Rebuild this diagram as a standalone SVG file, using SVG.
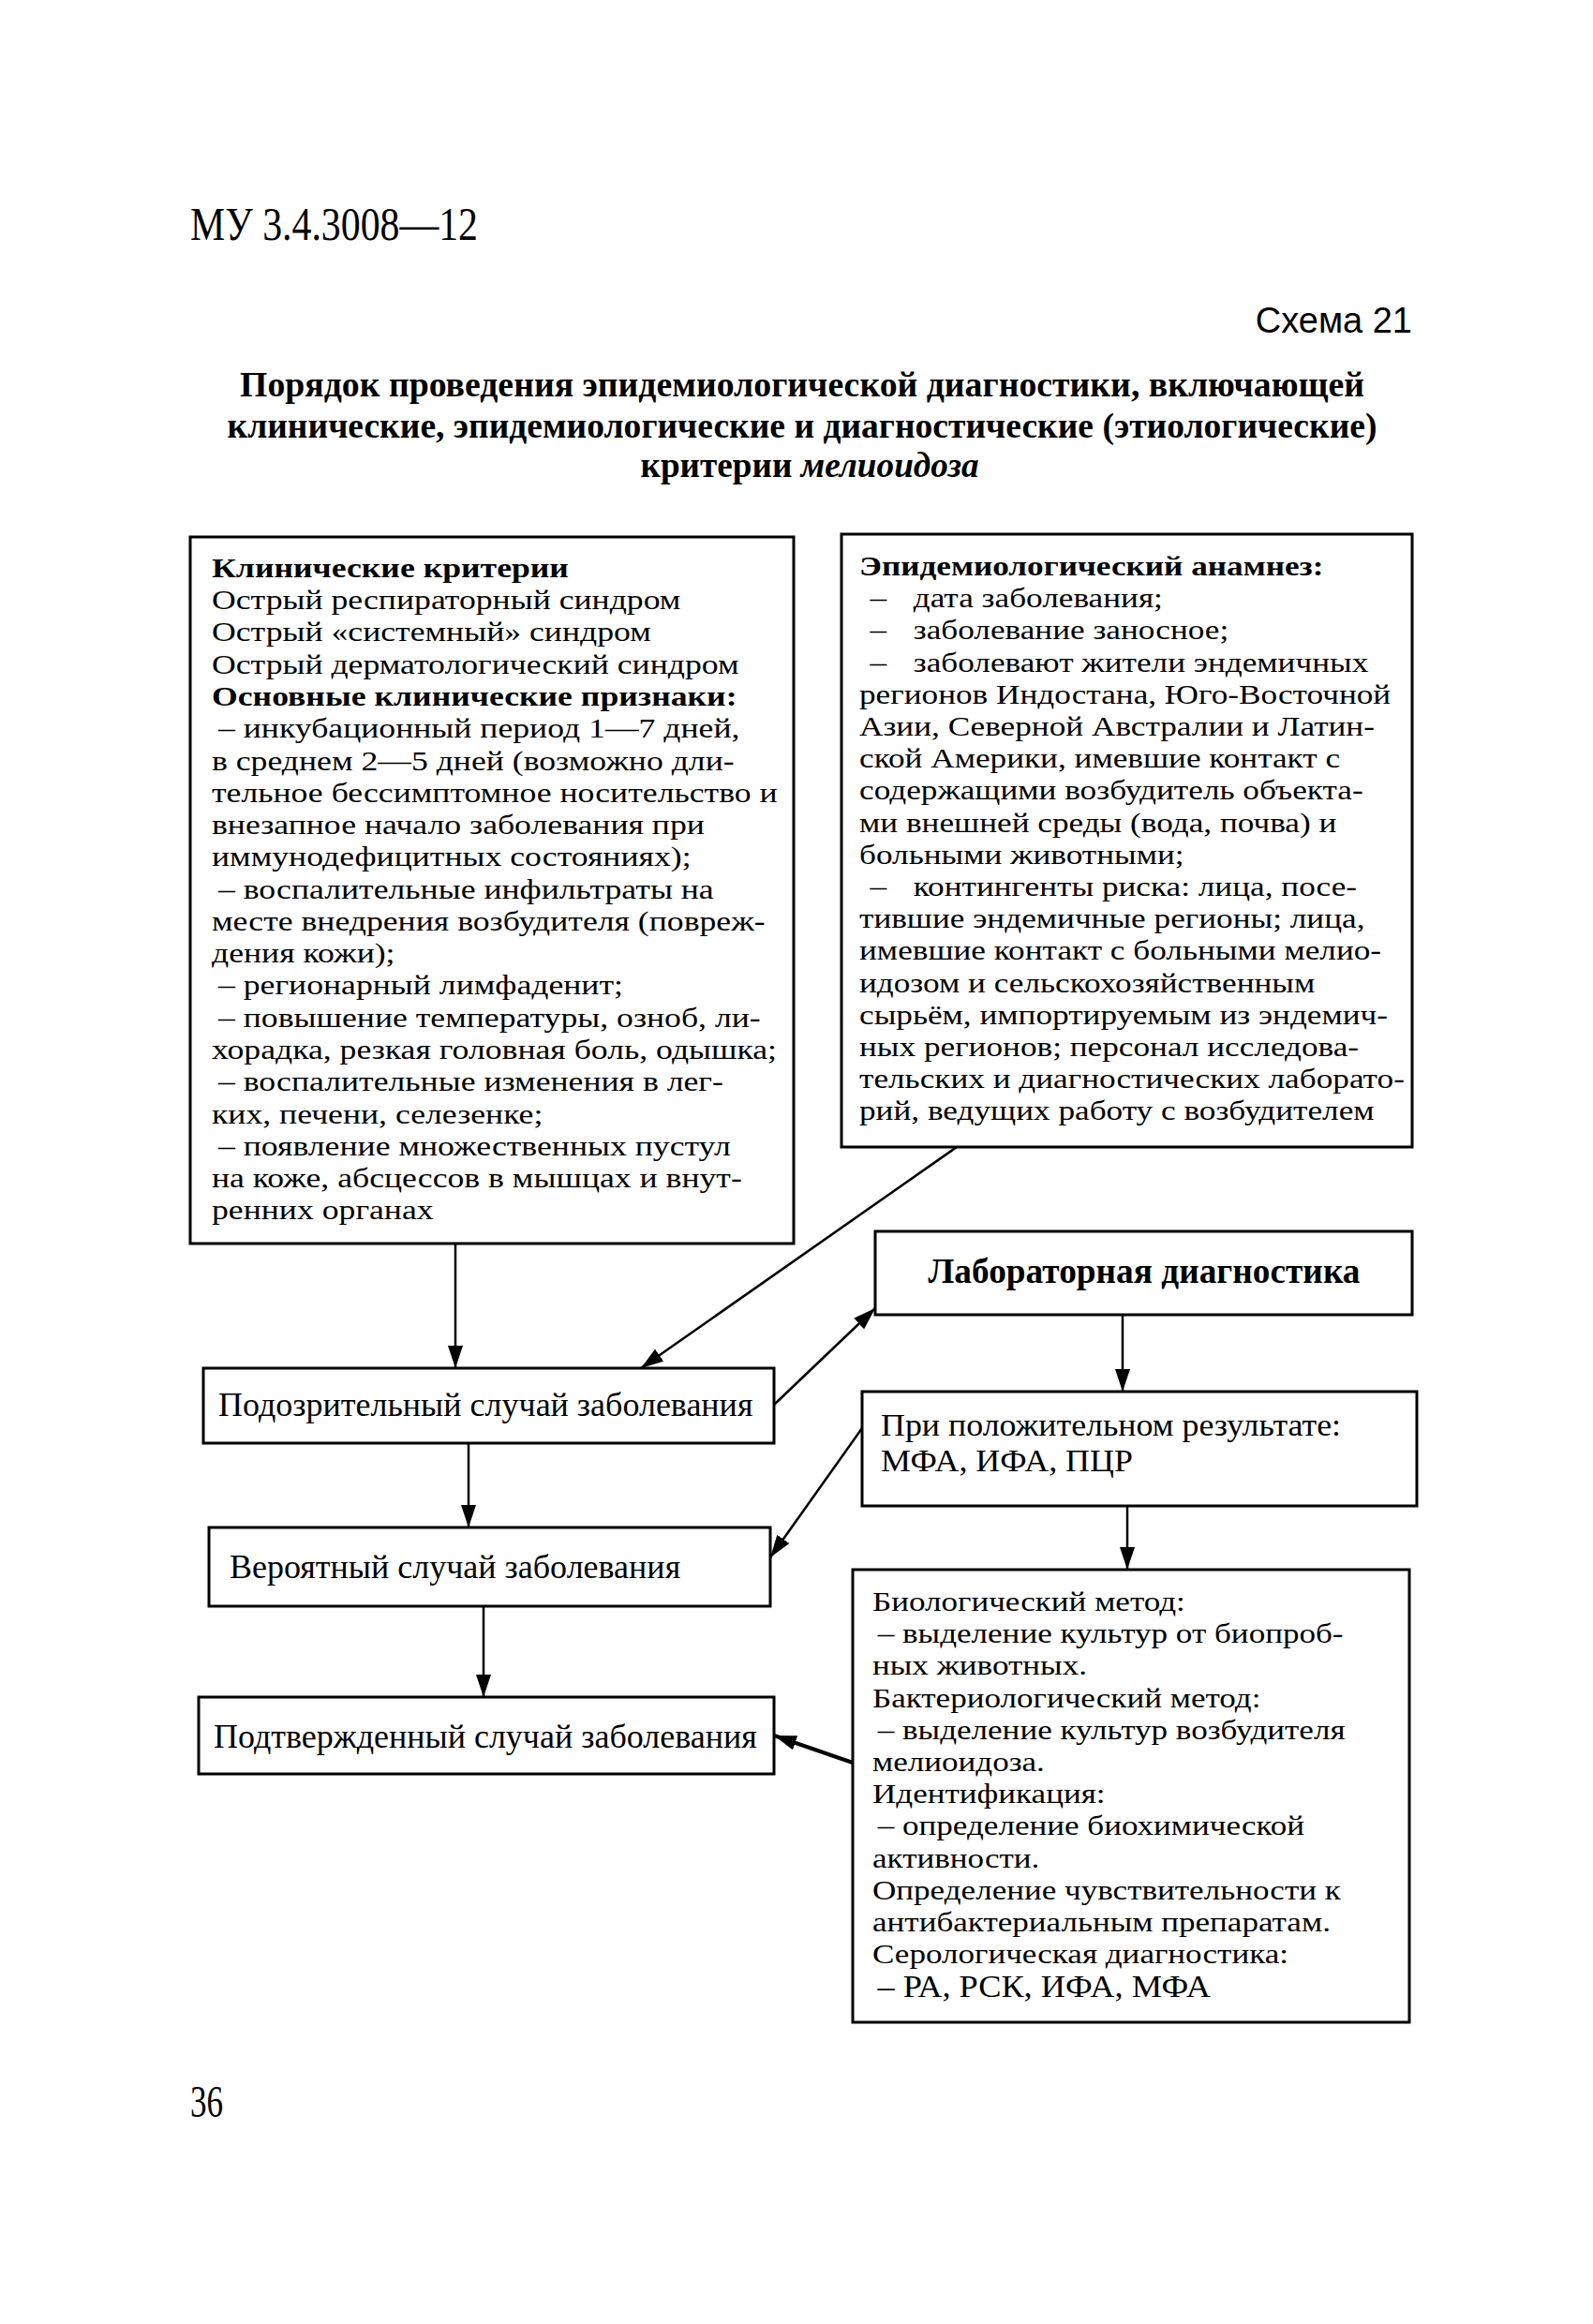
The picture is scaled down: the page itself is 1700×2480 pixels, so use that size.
<svg xmlns="http://www.w3.org/2000/svg" width="1700" height="2480" viewBox="0 0 1700 2480">
<defs>
<style>
.bg{fill:#ffffff}
.box{fill:#ffffff;stroke:#000;stroke-width:3}
.t{font-family:"Liberation Serif","Times New Roman",serif;font-size:36px;fill:#000}
.p{font-family:"Liberation Serif","Times New Roman",serif;font-size:30.5px;fill:#000}
.b{font-weight:bold}
.title{font-family:"Liberation Serif","Times New Roman",serif;font-size:37px;font-weight:bold;fill:#000;text-anchor:middle}
.sans{font-family:"Liberation Sans",Arial,sans-serif;font-size:38px;fill:#000}
.conn{stroke:#000;stroke-width:2.5;fill:none}
</style>
<marker id="arr" markerUnits="userSpaceOnUse" viewBox="0 0 24 16" refX="24" refY="8" markerWidth="24" markerHeight="16" orient="auto">
<path d="M0,0 L24,8 L0,16 z" fill="#000"/>
</marker>
</defs>
<rect class="bg" x="0" y="0" width="1700" height="2480"/>

<g id="header">
<text class="t" x="203" y="256" style="font-size:50px" textLength="307" lengthAdjust="spacingAndGlyphs">МУ 3.4.3008—12</text>
<text class="sans" x="1507" y="355" text-anchor="end">Схема 21</text>
<text class="title" x="856" y="423" textLength="1200" lengthAdjust="spacingAndGlyphs">Порядок проведения  эпидемиологической диагностики, включающей</text>
<text class="title" x="856" y="467" textLength="1227" lengthAdjust="spacingAndGlyphs">клинические, эпидемиологические и диагностические (этиологические)</text>
<text class="title" x="864" y="509" textLength="361" lengthAdjust="spacingAndGlyphs">критерии <tspan font-style="italic">мелиоидоза</tspan></text>
</g>

<g id="connectors">
<line class="conn" x1="486" y1="1327" x2="486" y2="1460" marker-end="url(#arr)"/>
<line class="conn" x1="1021" y1="1224" x2="684" y2="1460" marker-end="url(#arr)"/>
<line class="conn" x1="826" y1="1499" x2="934" y2="1396" marker-end="url(#arr)"/>
<line class="conn" x1="1198" y1="1403" x2="1198" y2="1485" marker-end="url(#arr)"/>
<line class="conn" x1="500" y1="1540" x2="500" y2="1630" marker-end="url(#arr)"/>
<line class="conn" x1="920" y1="1524" x2="822" y2="1662" marker-end="url(#arr)"/>
<line class="conn" x1="1203" y1="1607" x2="1203" y2="1675" marker-end="url(#arr)"/>
<line class="conn" x1="516" y1="1714" x2="516" y2="1811" marker-end="url(#arr)"/>
<line class="conn" x1="910" y1="1881" x2="826" y2="1852" marker-end="url(#arr)" style="stroke-width:4"/>
</g>

<g id="clinical">
<rect class="box" x="203" y="573" width="644" height="754"/>
<g transform="translate(226,0) scale(1.17,1)">
<text class="p">
<tspan class="b" x="0" y="616">Клинические критерии</tspan>
<tspan x="0" y="650.3">Острый респираторный синдром</tspan>
<tspan x="0" y="684.5">Острый «системный» синдром</tspan>
<tspan x="0" y="718.8">Острый дерматологический синдром</tspan>
<tspan class="b" x="0" y="753.1">Основные клинические признаки:</tspan>
<tspan x="6" y="787.4">–  инкубационный период 1—7 дней,</tspan>
<tspan x="0" y="821.6">в среднем 2—5 дней (возможно дли-</tspan>
<tspan x="0" y="855.9">тельное бессимптомное носительство и</tspan>
<tspan x="0" y="890.2">внезапное начало заболевания при</tspan>
<tspan x="0" y="924.4">иммунодефицитных состояниях);</tspan>
<tspan x="6" y="958.7">–  воспалительные инфильтраты на</tspan>
<tspan x="0" y="993">месте внедрения возбудителя (повреж-</tspan>
<tspan x="0" y="1027.2">дения кожи);</tspan>
<tspan x="6" y="1061.5">–  регионарный лимфаденит;</tspan>
<tspan x="6" y="1095.8">–  повышение температуры, озноб, ли-</tspan>
<tspan x="0" y="1130">хорадка, резкая головная боль, одышка;</tspan>
<tspan x="6" y="1164.3">–  воспалительные изменения в лег-</tspan>
<tspan x="0" y="1198.6">ких, печени, селезенке;</tspan>
<tspan x="6" y="1232.9">–  появление множественных пустул</tspan>
<tspan x="0" y="1267.1">на коже, абсцессов в мышцах и внут-</tspan>
<tspan x="0" y="1301.4">ренних органах</tspan>
</text>
</g>
</g>

<g id="epidemiological">
<rect class="box" x="898" y="570" width="609" height="654"/>
<g transform="translate(917,0) scale(1.155,1)">
<text class="p">
<tspan class="b" x="0" y="614">Эпидемиологический анамнез:</tspan>
<tspan x="10" y="648.2">–</tspan><tspan x="50" y="648.2">дата заболевания;</tspan>
<tspan x="10" y="682.4">–</tspan><tspan x="50" y="682.4">заболевание заносное;</tspan>
<tspan x="10" y="716.6">–</tspan><tspan x="50" y="716.6">заболевают жители эндемичных</tspan>
<tspan x="0" y="750.8">регионов Индостана, Юго-Восточной</tspan>
<tspan x="0" y="785">Азии, Северной Австралии и Латин-</tspan>
<tspan x="0" y="819.2">ской Америки, имевшие контакт с</tspan>
<tspan x="0" y="853.4">содержащими возбудитель объекта-</tspan>
<tspan x="0" y="887.6">ми внешней среды (вода, почва) и</tspan>
<tspan x="0" y="921.8">больными животными;</tspan>
<tspan x="10" y="956">–</tspan><tspan x="50" y="956">контингенты риска: лица, посе-</tspan>
<tspan x="0" y="990.2">тившие эндемичные регионы; лица,</tspan>
<tspan x="0" y="1024.4">имевшие контакт с больными мелио-</tspan>
<tspan x="0" y="1058.6">идозом и сельскохозяйственным</tspan>
<tspan x="0" y="1092.8">сырьём, импортируемым из эндемич-</tspan>
<tspan x="0" y="1127">ных регионов; персонал исследова-</tspan>
<tspan x="0" y="1161.2">тельских и диагностических лаборато-</tspan>
<tspan x="0" y="1195.4">рий, ведущих работу с возбудителем</tspan>
</text>
</g>
</g>

<g id="lab">
<rect class="box" x="934" y="1314" width="573" height="89"/>
<text class="t b" x="1221" y="1369" text-anchor="middle" style="font-size:37px" textLength="461" lengthAdjust="spacingAndGlyphs">Лабораторная диагностика</text>
</g>

<g id="suspected">
<rect class="box" x="217" y="1460" width="609" height="80"/>
<text class="t" x="233" y="1511">Подозрительный случай заболевания</text>
</g>

<g id="positive">
<rect class="box" x="920" y="1485" width="592" height="122"/>
<g transform="translate(940,0) scale(1.055,1)">
<text class="t" x="0" y="1532" style="font-size:34px">При положительном результате:</text>
<text class="t" x="0" y="1570" style="font-size:34px">МФА, ИФА, ПЦР</text>
</g>
</g>

<g id="probable">
<rect class="box" x="223" y="1630" width="599" height="84"/>
<text class="t" x="245" y="1684">Вероятный случай заболевания</text>
</g>

<g id="confirmed">
<rect class="box" x="212" y="1811" width="614" height="82"/>
<text class="t" x="228" y="1865">Подтвержденный случай заболевания</text>
</g>

<g id="methods">
<rect class="box" x="910" y="1675" width="594" height="483"/>
<g transform="translate(931,0) scale(1.15,1)">
<text class="p">
<tspan x="0" y="1719">Биологический метод:</tspan>
<tspan x="5" y="1753.2">– выделение культур от биопроб-</tspan>
<tspan x="0" y="1787.4">ных животных.</tspan>
<tspan x="0" y="1821.6">Бактериологический метод:</tspan>
<tspan x="5" y="1855.8">– выделение культур возбудителя</tspan>
<tspan x="0" y="1890">мелиоидоза.</tspan>
<tspan x="0" y="1924.2">Идентификация:</tspan>
<tspan x="5" y="1958.4">– определение биохимической</tspan>
<tspan x="0" y="1992.6">активности.</tspan>
<tspan x="0" y="2026.8">Определение чувствительности к</tspan>
<tspan x="0" y="2061">антибактериальным препаратам.</tspan>
<tspan x="0" y="2095.2">Серологическая диагностика:</tspan>
</text>
</g>
<g transform="translate(931,0) scale(1.1,1)">
<text class="p" x="5" y="2131" style="font-size:33px">– РА, РСК, ИФА, МФА</text>
</g>
</g>

<g id="footer">
<text class="t" x="203" y="2259" style="font-size:48px" textLength="35" lengthAdjust="spacingAndGlyphs">36</text>
</g>
</svg>
